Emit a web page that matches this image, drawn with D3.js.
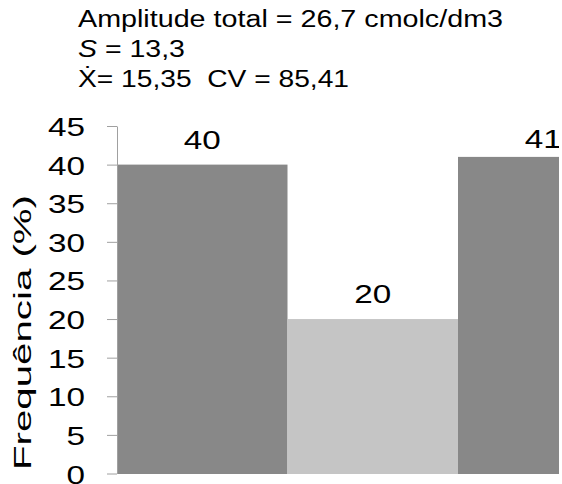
<!DOCTYPE html>
<html>
<head>
<meta charset="utf-8">
<script src="https://cdn.jsdelivr.net/npm/d3@7"></script>
<style>
  html, body { margin: 0; padding: 0; background: #fff; }
  svg { display: block; font-family: "Liberation Sans", Arial, sans-serif; }
  text { white-space: pre; }
</style>
</head>
<body>
<svg id="chart" width="562" height="484"></svg>
<script>
// ---- data ----
const categories = ["Classe 1", "Classe 2", "Classe 3"];
const frequencies = [40, 20, 41];
const barColors = ["#888888", "#c5c5c5", "#888888"];
const yTicks = [0, 5, 10, 15, 20, 25, 30, 35, 40, 45];
const titleLines = ["Amplitude total = 26,7 cmolc/dm3", "S = 13,3", "Ẋ= 15,35  CV = 85,41"];
const yAxisTitle = "Frequência (%)";

// ---- layout ----
const svg = d3.select("#chart");
const W = 562, H = 484;
const plot = { left: 117, top: 126, bottom: 473.5, barWidth: 170.5 };

const y = d3.scaleLinear().domain([0, 45]).range([plot.bottom, plot.top]);
const x = d3.scaleBand().domain(categories)
  .range([plot.left, plot.left + plot.barWidth * categories.length])
  .paddingInner(0).paddingOuter(0);

svg.append("defs").append("clipPath").attr("id", "clip")
  .append("rect").attr("x", 0).attr("y", 0).attr("width", 559).attr("height", H);

const g = svg.append("g").attr("clip-path", "url(#clip)");

// bars
g.selectAll("rect.bar").data(frequencies).join("rect")
  .attr("class", "bar")
  .attr("x", (d, i) => x(categories[i]))
  .attr("width", x.bandwidth())
  .attr("y", d => y(d))
  .attr("height", d => y(0) - y(d) + 0.5)
  .attr("fill", (d, i) => barColors[i]);

// value labels
const sx = 1.28;
g.selectAll("text.val").data(frequencies).join("text")
  .attr("class", "val")
  .attr("text-anchor", "middle")
  .attr("font-size", 26)
  .attr("fill", "#000")
  .attr("transform", (d, i) => {
    const cx = x(categories[i]) + x.bandwidth() / 2;
    const by = Math.max(y(d) - 16, y(45) + 22);
    return `translate(${cx},${by}) scale(${sx},1)`;
  })
  .text(d => d);

// y axis
const axis = d3.axisLeft(y).tickValues(yTicks).tickSize(10).tickSizeOuter(0).tickPadding(0).tickFormat(d3.format("d"));
const ag = svg.append("g").attr("transform", `translate(${plot.left},0)`).call(axis);
ag.select(".domain").attr("stroke", "#a0a0a0");
ag.selectAll(".tick line").attr("stroke", "#a0a0a0");
ag.selectAll(".tick text")
  .attr("font-size", 26)
  .attr("fill", "#000")
  .attr("x", null).attr("dy", null)
  .attr("text-anchor", "end")
  .attr("transform", `translate(-32,9.5) scale(${sx},1)`)
  .attr("font-family", "Liberation Sans, Arial, sans-serif");

// y axis title
svg.append("text")
  .attr("transform", "translate(31,470) rotate(-90)")
  .attr("font-size", 23)
  .attr("fill", "#000")
  .attr("text-anchor", "start")
  .attr("textLength", 275)
  .attr("lengthAdjust", "spacingAndGlyphs")
  .text(yAxisTitle);

// title lines
const tBase = [27, 56.5, 86.5];
const tLen = [425, 107, 271];
const tg = svg.append("g");
titleLines.forEach((t, i) => {
  const el = tg.append("text")
    .attr("x", 78)
    .attr("y", tBase[i])
    .attr("font-size", 23.5)
    .attr("fill", "#000")
    .attr("textLength", tLen[i])
    .attr("lengthAdjust", "spacingAndGlyphs");
  if (i === 1) {
    el.append("tspan").attr("font-style", "italic").text("S");
    el.append("tspan").text(t.slice(1));
  } else {
    el.text(t);
  }
});
</script>
</body>
</html>
